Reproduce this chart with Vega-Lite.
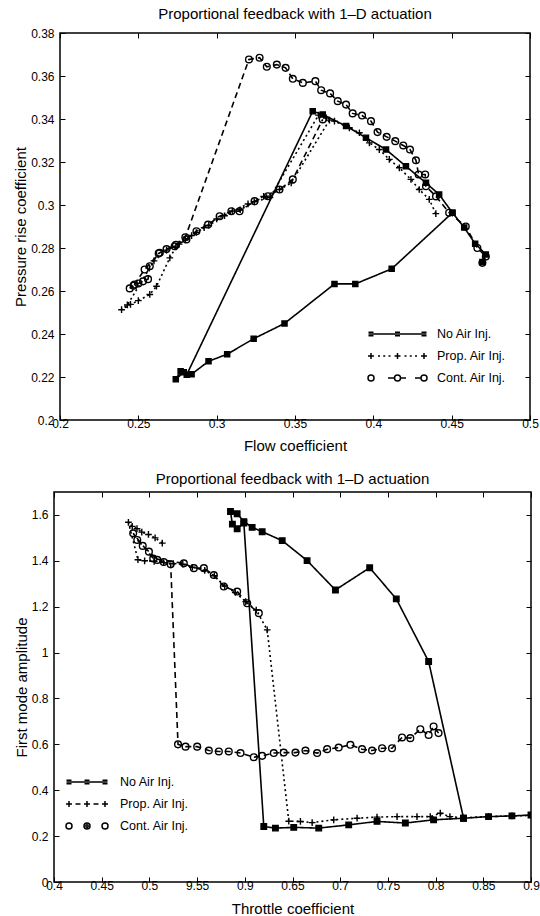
{
  "$schema": "https://vega.github.io/schema/vega-lite/v6.json",
  "padding": {"left": 10, "top": 6, "right": 0, "bottom": 0},
  "background": "white",
  "config": {
    "font": "Liberation Sans",
    "view": {"stroke": "black", "strokeWidth": 1.5},
    "axis": {"grid": false, "domain": false, "tickColor": "black", "tickSize": -5, "tickWidth": 1, "labelColor": "black", "labelFontSize": 12, "titleFontSize": 15, "titleFontWeight": "normal", "titleColor": "black", "labelFlush": false, "labelOverlap": false, "format": "~g"},
    "title": {"fontSize": 15, "fontWeight": "normal", "color": "black", "offset": 5, "frame": "group"},
    "legend": {"labelFontSize": 12.5, "labelColor": "black", "title": null}
  },
  "datasets": {
    "top": [
      {"s":"No Air Inj.","i":1,"x":0.4696,"y":0.2735},{"s":"No Air Inj.","i":2,"x":0.4718,"y":0.2770},{"s":"No Air Inj.","i":3,"x":0.4650,"y":0.2820},{"s":"No Air Inj.","i":4,"x":0.4580,"y":0.2895},{"s":"No Air Inj.","i":5,"x":0.4505,"y":0.2964},{"s":"No Air Inj.","i":6,"x":0.4420,"y":0.3049},{"s":"No Air Inj.","i":7,"x":0.4336,"y":0.3103},{"s":"No Air Inj.","i":8,"x":0.4208,"y":0.3180},{"s":"No Air Inj.","i":9,"x":0.4081,"y":0.3258},{"s":"No Air Inj.","i":10,"x":0.3953,"y":0.3313},{"s":"No Air Inj.","i":11,"x":0.3826,"y":0.3367},{"s":"No Air Inj.","i":12,"x":0.3677,"y":0.3421},{"s":"No Air Inj.","i":13,"x":0.3613,"y":0.3436},{"s":"No Air Inj.","i":14,"x":0.2809,"y":0.2211},{"s":"No Air Inj.","i":15,"x":0.2770,"y":0.2227},{"s":"No Air Inj.","i":16,"x":0.2739,"y":0.2190},{"s":"No Air Inj.","i":17,"x":0.2790,"y":0.2222},{"s":"No Air Inj.","i":18,"x":0.2840,"y":0.2213},{"s":"No Air Inj.","i":19,"x":0.2948,"y":0.2273},{"s":"No Air Inj.","i":20,"x":0.3067,"y":0.2306},{"s":"No Air Inj.","i":21,"x":0.3236,"y":0.2378},{"s":"No Air Inj.","i":22,"x":0.3433,"y":0.2449},{"s":"No Air Inj.","i":23,"x":0.3752,"y":0.2633},{"s":"No Air Inj.","i":24,"x":0.3885,"y":0.2633},{"s":"No Air Inj.","i":25,"x":0.4117,"y":0.2703},{"s":"No Air Inj.","i":26,"x":0.4505,"y":0.2964},
      {"s":"Prop. Air Inj.","i":1,"x":0.4399,"y":0.2960},{"s":"Prop. Air Inj.","i":2,"x":0.4357,"y":0.3026},{"s":"Prop. Air Inj.","i":3,"x":0.4293,"y":0.3072},{"s":"Prop. Air Inj.","i":4,"x":0.4240,"y":0.3119},{"s":"Prop. Air Inj.","i":5,"x":0.4166,"y":0.3173},{"s":"Prop. Air Inj.","i":6,"x":0.4102,"y":0.3212},{"s":"Prop. Air Inj.","i":7,"x":0.4038,"y":0.3258},{"s":"Prop. Air Inj.","i":8,"x":0.3975,"y":0.3289},{"s":"Prop. Air Inj.","i":9,"x":0.3911,"y":0.3336},{"s":"Prop. Air Inj.","i":10,"x":0.3847,"y":0.3359},{"s":"Prop. Air Inj.","i":11,"x":0.3752,"y":0.3390},{"s":"Prop. Air Inj.","i":12,"x":0.3700,"y":0.3405},{"s":"Prop. Air Inj.","i":13,"x":0.3650,"y":0.3418},{"s":"Prop. Air Inj.","i":14,"x":0.3340,"y":0.3035},{"s":"Prop. Air Inj.","i":15,"x":0.3240,"y":0.3015},{"s":"Prop. Air Inj.","i":16,"x":0.3150,"y":0.2978},{"s":"Prop. Air Inj.","i":17,"x":0.3050,"y":0.2950},{"s":"Prop. Air Inj.","i":18,"x":0.2950,"y":0.2905},{"s":"Prop. Air Inj.","i":19,"x":0.2870,"y":0.2872},{"s":"Prop. Air Inj.","i":20,"x":0.2800,"y":0.2838},{"s":"Prop. Air Inj.","i":21,"x":0.2740,"y":0.2805},{"s":"Prop. Air Inj.","i":22,"x":0.2701,"y":0.2754},{"s":"Prop. Air Inj.","i":23,"x":0.2616,"y":0.2622},{"s":"Prop. Air Inj.","i":24,"x":0.2573,"y":0.2584},{"s":"Prop. Air Inj.","i":25,"x":0.2500,"y":0.2555},{"s":"Prop. Air Inj.","i":26,"x":0.2450,"y":0.2538},{"s":"Prop. Air Inj.","i":27,"x":0.2393,"y":0.2513},{"s":"Prop. Air Inj.","i":28,"x":0.2430,"y":0.2535},{"s":"Prop. Air Inj.","i":29,"x":0.2600,"y":0.2740},{"s":"Prop. Air Inj.","i":30,"x":0.2680,"y":0.2790},{"s":"Prop. Air Inj.","i":31,"x":0.2760,"y":0.2818},{"s":"Prop. Air Inj.","i":32,"x":0.2840,"y":0.2858},{"s":"Prop. Air Inj.","i":33,"x":0.2920,"y":0.2895},{"s":"Prop. Air Inj.","i":34,"x":0.3000,"y":0.2935},{"s":"Prop. Air Inj.","i":35,"x":0.3100,"y":0.2972},{"s":"Prop. Air Inj.","i":36,"x":0.3200,"y":0.3005},{"s":"Prop. Air Inj.","i":37,"x":0.3300,"y":0.3040},{"s":"Prop. Air Inj.","i":38,"x":0.3401,"y":0.3072},{"s":"Prop. Air Inj.","i":39,"x":0.3476,"y":0.3103},{"s":"Prop. Air Inj.","i":40,"x":0.3720,"y":0.3395},
      {"s":"Cont. Air Inj.","i":1,"x":0.4696,"y":0.2731},{"s":"Cont. Air Inj.","i":2,"x":0.4718,"y":0.2760},{"s":"Cont. Air Inj.","i":3,"x":0.4664,"y":0.2800},{"s":"Cont. Air Inj.","i":4,"x":0.4590,"y":0.2900},{"s":"Cont. Air Inj.","i":5,"x":0.4484,"y":0.2964},{"s":"Cont. Air Inj.","i":6,"x":0.4400,"y":0.3040},{"s":"Cont. Air Inj.","i":7,"x":0.4336,"y":0.3087},{"s":"Cont. Air Inj.","i":8,"x":0.4331,"y":0.3142},{"s":"Cont. Air Inj.","i":9,"x":0.4289,"y":0.3142},{"s":"Cont. Air Inj.","i":10,"x":0.4272,"y":0.3208},{"s":"Cont. Air Inj.","i":11,"x":0.4234,"y":0.3258},{"s":"Cont. Air Inj.","i":12,"x":0.4191,"y":0.3277},{"s":"Cont. Air Inj.","i":13,"x":0.4140,"y":0.3297},{"s":"Cont. Air Inj.","i":14,"x":0.4085,"y":0.3317},{"s":"Cont. Air Inj.","i":15,"x":0.4027,"y":0.3339},{"s":"Cont. Air Inj.","i":16,"x":0.3985,"y":0.3390},{"s":"Cont. Air Inj.","i":17,"x":0.3928,"y":0.3416},{"s":"Cont. Air Inj.","i":18,"x":0.3868,"y":0.3426},{"s":"Cont. Air Inj.","i":19,"x":0.3826,"y":0.3467},{"s":"Cont. Air Inj.","i":20,"x":0.3773,"y":0.3483},{"s":"Cont. Air Inj.","i":21,"x":0.3724,"y":0.3519},{"s":"Cont. Air Inj.","i":22,"x":0.3667,"y":0.3534},{"s":"Cont. Air Inj.","i":23,"x":0.3630,"y":0.3576},{"s":"Cont. Air Inj.","i":24,"x":0.3550,"y":0.3568},{"s":"Cont. Air Inj.","i":25,"x":0.3486,"y":0.3587},{"s":"Cont. Air Inj.","i":26,"x":0.3440,"y":0.3638},{"s":"Cont. Air Inj.","i":27,"x":0.3384,"y":0.3653},{"s":"Cont. Air Inj.","i":28,"x":0.3320,"y":0.3643},{"s":"Cont. Air Inj.","i":29,"x":0.3274,"y":0.3685},{"s":"Cont. Air Inj.","i":30,"x":0.3206,"y":0.3677},{"s":"Cont. Air Inj.","i":31,"x":0.2800,"y":0.2850},{"s":"Cont. Air Inj.","i":32,"x":0.2740,"y":0.2815},{"s":"Cont. Air Inj.","i":33,"x":0.2680,"y":0.2795},{"s":"Cont. Air Inj.","i":34,"x":0.2630,"y":0.2775},{"s":"Cont. Air Inj.","i":35,"x":0.2573,"y":0.2715},{"s":"Cont. Air Inj.","i":36,"x":0.2562,"y":0.2655},{"s":"Cont. Air Inj.","i":37,"x":0.2530,"y":0.2645},{"s":"Cont. Air Inj.","i":38,"x":0.2500,"y":0.2635},{"s":"Cont. Air Inj.","i":39,"x":0.2470,"y":0.2625},{"s":"Cont. Air Inj.","i":40,"x":0.2445,"y":0.2612},{"s":"Cont. Air Inj.","i":41,"x":0.2475,"y":0.2630},{"s":"Cont. Air Inj.","i":42,"x":0.2540,"y":0.2700},{"s":"Cont. Air Inj.","i":43,"x":0.2637,"y":0.2778},{"s":"Cont. Air Inj.","i":44,"x":0.2732,"y":0.2808},{"s":"Cont. Air Inj.","i":45,"x":0.2807,"y":0.2840},{"s":"Cont. Air Inj.","i":46,"x":0.2871,"y":0.2878},{"s":"Cont. Air Inj.","i":47,"x":0.2945,"y":0.2909},{"s":"Cont. Air Inj.","i":48,"x":0.3019,"y":0.2948},{"s":"Cont. Air Inj.","i":49,"x":0.3094,"y":0.2971},{"s":"Cont. Air Inj.","i":50,"x":0.3146,"y":0.2971},{"s":"Cont. Air Inj.","i":51,"x":0.3242,"y":0.3018},{"s":"Cont. Air Inj.","i":52,"x":0.3327,"y":0.3041},{"s":"Cont. Air Inj.","i":53,"x":0.3401,"y":0.3072},{"s":"Cont. Air Inj.","i":54,"x":0.3486,"y":0.3119},{"s":"Cont. Air Inj.","i":55,"x":0.3677,"y":0.3398}
    ],
    "bottom": [
      {"s":"No Air Inj.","i":1,"x":0.9000,"y":0.292},{"s":"No Air Inj.","i":2,"x":0.8800,"y":0.288},{"s":"No Air Inj.","i":3,"x":0.8555,"y":0.285},{"s":"No Air Inj.","i":4,"x":0.8293,"y":0.278},{"s":"No Air Inj.","i":5,"x":0.7927,"y":0.961},{"s":"No Air Inj.","i":6,"x":0.7588,"y":1.234},{"s":"No Air Inj.","i":7,"x":0.7309,"y":1.370},{"s":"No Air Inj.","i":8,"x":0.6950,"y":1.273},{"s":"No Air Inj.","i":9,"x":0.6653,"y":1.401},{"s":"No Air Inj.","i":10,"x":0.6392,"y":1.488},{"s":"No Air Inj.","i":11,"x":0.6182,"y":1.527},{"s":"No Air Inj.","i":12,"x":0.6077,"y":1.546},{"s":"No Air Inj.","i":13,"x":0.5990,"y":1.571},{"s":"No Air Inj.","i":14,"x":0.5920,"y":1.605},{"s":"No Air Inj.","i":15,"x":0.5850,"y":1.615},{"s":"No Air Inj.","i":16,"x":0.5870,"y":1.560},{"s":"No Air Inj.","i":17,"x":0.5920,"y":1.540},{"s":"No Air Inj.","i":18,"x":0.5990,"y":1.565},{"s":"No Air Inj.","i":19,"x":0.6199,"y":0.242},{"s":"No Air Inj.","i":20,"x":0.6321,"y":0.235},{"s":"No Air Inj.","i":21,"x":0.6513,"y":0.238},{"s":"No Air Inj.","i":22,"x":0.6775,"y":0.235},{"s":"No Air Inj.","i":23,"x":0.7089,"y":0.249},{"s":"No Air Inj.","i":24,"x":0.7386,"y":0.264},{"s":"No Air Inj.","i":25,"x":0.7683,"y":0.257},{"s":"No Air Inj.","i":26,"x":0.7979,"y":0.271},{"s":"No Air Inj.","i":27,"x":0.8293,"y":0.278},
      {"s":"Prop. Air Inj.","i":1,"x":0.5135,"y":1.477},{"s":"Prop. Air Inj.","i":2,"x":0.5060,"y":1.500},{"s":"Prop. Air Inj.","i":3,"x":0.4990,"y":1.515},{"s":"Prop. Air Inj.","i":4,"x":0.4920,"y":1.525},{"s":"Prop. Air Inj.","i":5,"x":0.4870,"y":1.540},{"s":"Prop. Air Inj.","i":6,"x":0.4820,"y":1.550},{"s":"Prop. Air Inj.","i":7,"x":0.4780,"y":1.568},{"s":"Prop. Air Inj.","i":8,"x":0.4880,"y":1.405},{"s":"Prop. Air Inj.","i":9,"x":0.4950,"y":1.400},{"s":"Prop. Air Inj.","i":10,"x":0.5050,"y":1.398},{"s":"Prop. Air Inj.","i":11,"x":0.5150,"y":1.392},{"s":"Prop. Air Inj.","i":12,"x":0.5250,"y":1.388},{"s":"Prop. Air Inj.","i":13,"x":0.5350,"y":1.385},{"s":"Prop. Air Inj.","i":14,"x":0.5450,"y":1.372},{"s":"Prop. Air Inj.","i":15,"x":0.5580,"y":1.358},{"s":"Prop. Air Inj.","i":16,"x":0.5680,"y":1.335},{"s":"Prop. Air Inj.","i":17,"x":0.5790,"y":1.290},{"s":"Prop. Air Inj.","i":18,"x":0.5900,"y":1.262},{"s":"Prop. Air Inj.","i":19,"x":0.6010,"y":1.222},{"s":"Prop. Air Inj.","i":20,"x":0.6120,"y":1.185},{"s":"Prop. Air Inj.","i":21,"x":0.6235,"y":1.099},{"s":"Prop. Air Inj.","i":22,"x":0.6461,"y":0.265},{"s":"Prop. Air Inj.","i":23,"x":0.6583,"y":0.264},{"s":"Prop. Air Inj.","i":24,"x":0.6706,"y":0.259},{"s":"Prop. Air Inj.","i":25,"x":0.6932,"y":0.271},{"s":"Prop. Air Inj.","i":26,"x":0.7177,"y":0.278},{"s":"Prop. Air Inj.","i":27,"x":0.7386,"y":0.283},{"s":"Prop. Air Inj.","i":28,"x":0.7596,"y":0.285},{"s":"Prop. Air Inj.","i":29,"x":0.7805,"y":0.285},{"s":"Prop. Air Inj.","i":30,"x":0.7944,"y":0.285},{"s":"Prop. Air Inj.","i":31,"x":0.8049,"y":0.300},{"s":"Prop. Air Inj.","i":32,"x":0.8150,"y":0.285},{"s":"Prop. Air Inj.","i":33,"x":0.8293,"y":0.280},{"s":"Prop. Air Inj.","i":34,"x":0.8555,"y":0.285},{"s":"Prop. Air Inj.","i":35,"x":0.8800,"y":0.288},{"s":"Prop. Air Inj.","i":36,"x":0.9000,"y":0.290},
      {"s":"Cont. Air Inj.","i":1,"x":0.8031,"y":0.649},{"s":"Cont. Air Inj.","i":2,"x":0.7979,"y":0.678},{"s":"Cont. Air Inj.","i":3,"x":0.7927,"y":0.641},{"s":"Cont. Air Inj.","i":4,"x":0.7840,"y":0.666},{"s":"Cont. Air Inj.","i":5,"x":0.7735,"y":0.627},{"s":"Cont. Air Inj.","i":6,"x":0.7648,"y":0.630},{"s":"Cont. Air Inj.","i":7,"x":0.7543,"y":0.583},{"s":"Cont. Air Inj.","i":8,"x":0.7439,"y":0.583},{"s":"Cont. Air Inj.","i":9,"x":0.7334,"y":0.573},{"s":"Cont. Air Inj.","i":10,"x":0.7229,"y":0.579},{"s":"Cont. Air Inj.","i":11,"x":0.7107,"y":0.598},{"s":"Cont. Air Inj.","i":12,"x":0.6984,"y":0.586},{"s":"Cont. Air Inj.","i":13,"x":0.6863,"y":0.579},{"s":"Cont. Air Inj.","i":14,"x":0.6758,"y":0.562},{"s":"Cont. Air Inj.","i":15,"x":0.6636,"y":0.573},{"s":"Cont. Air Inj.","i":16,"x":0.6531,"y":0.564},{"s":"Cont. Air Inj.","i":17,"x":0.6408,"y":0.564},{"s":"Cont. Air Inj.","i":18,"x":0.6304,"y":0.562},{"s":"Cont. Air Inj.","i":19,"x":0.6182,"y":0.550},{"s":"Cont. Air Inj.","i":20,"x":0.6094,"y":0.544},{"s":"Cont. Air Inj.","i":21,"x":0.5955,"y":0.562},{"s":"Cont. Air Inj.","i":22,"x":0.5832,"y":0.569},{"s":"Cont. Air Inj.","i":23,"x":0.5728,"y":0.569},{"s":"Cont. Air Inj.","i":24,"x":0.5623,"y":0.573},{"s":"Cont. Air Inj.","i":25,"x":0.5501,"y":0.590},{"s":"Cont. Air Inj.","i":26,"x":0.5379,"y":0.590},{"s":"Cont. Air Inj.","i":27,"x":0.5300,"y":0.600},{"s":"Cont. Air Inj.","i":28,"x":0.5223,"y":1.385},{"s":"Cont. Air Inj.","i":29,"x":0.5150,"y":1.395},{"s":"Cont. Air Inj.","i":30,"x":0.5083,"y":1.404},{"s":"Cont. Air Inj.","i":31,"x":0.4995,"y":1.440},{"s":"Cont. Air Inj.","i":32,"x":0.4930,"y":1.465},{"s":"Cont. Air Inj.","i":33,"x":0.4873,"y":1.491},{"s":"Cont. Air Inj.","i":34,"x":0.4830,"y":1.520},{"s":"Cont. Air Inj.","i":35,"x":0.5040,"y":1.410},{"s":"Cont. Air Inj.","i":36,"x":0.5361,"y":1.389},{"s":"Cont. Air Inj.","i":37,"x":0.5466,"y":1.368},{"s":"Cont. Air Inj.","i":38,"x":0.5571,"y":1.368},{"s":"Cont. Air Inj.","i":39,"x":0.5675,"y":1.338},{"s":"Cont. Air Inj.","i":40,"x":0.5780,"y":1.288},{"s":"Cont. Air Inj.","i":41,"x":0.5920,"y":1.266},{"s":"Cont. Air Inj.","i":42,"x":0.6025,"y":1.215},{"s":"Cont. Air Inj.","i":43,"x":0.6147,"y":1.172}
    ]
  },
  "spacing": 16,
  "resolve": {"scale": {"shape": "independent", "strokeDash": "independent", "fill": "independent", "size": "independent"}},
  "vconcat": [
    {
      "spacing": 0,
      "resolve": {"scale": {"shape": "independent", "strokeDash": "independent", "fill": "independent", "size": "independent"}},
      "hconcat": [
        {"width": 2, "height": 10, "data": {"values": []}, "mark": {"type": "point", "opacity": 0}, "view": {"stroke": null}},
        {
          "title": {"text": "Proportional feedback with 1–D actuation"},
          "width": 470,
          "height": 387,
          "data": {"name": "top"},
          "layer": [
            {
              "mark": {"type": "line", "color": "black", "strokeWidth": 1.6, "clip": true},
              "encoding": {
                "x": {"field": "x", "type": "quantitative", "scale": {"domain": [0.2, 0.5], "nice": false, "zero": false}, "axis": {"title": "Flow coefficient", "values": [0.2, 0.25, 0.3, 0.35, 0.4, 0.45, 0.5], "labelPadding": 3, "titlePadding": 9}},
                "y": {"field": "y", "type": "quantitative", "scale": {"domain": [0.2, 0.38], "nice": false, "zero": false}, "axis": {"title": "Pressure rise coefficient", "values": [0.2, 0.22, 0.24, 0.26, 0.28, 0.3, 0.32, 0.34, 0.36, 0.38], "labelPadding": 11, "titlePadding": 2}},
                "detail": {"field": "s"},
                "order": {"field": "i", "type": "quantitative"},
                "strokeDash": {"field": "s", "type": "nominal", "scale": {"domain": ["No Air Inj.", "Prop. Air Inj.", "Cont. Air Inj."], "range": [[1, 0], [2, 3], [6, 4]]}, "legend": null}
              }
            },
            {
              "mark": {"type": "point", "filled": true, "stroke": "black", "strokeWidth": 1.4, "opacity": 1, "clip": true},
              "encoding": {
                "x": {"field": "x", "type": "quantitative", "axis": null},
                "y": {"field": "y", "type": "quantitative", "axis": null},
                "shape": {"field": "s", "type": "nominal", "scale": {"domain": ["No Air Inj.", "Prop. Air Inj.", "Cont. Air Inj."], "range": ["square", "M-1,0H1M0,-1V1", "circle"]}, "legend": null},
                "fill": {"field": "s", "type": "nominal", "scale": {"domain": ["No Air Inj.", "Prop. Air Inj.", "Cont. Air Inj."], "range": ["black", "transparent", "transparent"]}, "legend": null},
                "size": {"field": "s", "type": "nominal", "scale": {"type": "ordinal", "domain": ["No Air Inj.", "Prop. Air Inj.", "Cont. Air Inj."], "range": [26, 45, 45]}, "legend": null}
              }
            },
            {
              "mark": {"type": "point", "filled": false, "color": "black", "opacity": 0, "strokeWidth": 1.5},
              "encoding": {
                "x": {"field": "x", "type": "quantitative", "axis": {"orient": "top", "labels": false, "title": null, "values": [0.2, 0.25, 0.3, 0.35, 0.4, 0.45, 0.5]}},
                "y": {"field": "y", "type": "quantitative", "axis": {"orient": "right", "labels": false, "title": null, "values": [0.2, 0.22, 0.24, 0.26, 0.28, 0.3, 0.32, 0.34, 0.36, 0.38]}},
                "shape": {"field": "s", "type": "nominal", "scale": {"domain": ["No Air Inj.", "Prop. Air Inj.", "Cont. Air Inj."], "range": [
                  "M-1,0H4.3M-1.25,-0.17H-0.75M-1.25,0.17H-0.75M-1.25,0H-0.75M1.4,-0.17H1.9M1.4,0.17H1.9M4.05,-0.17H4.55M4.05,0.17H4.55M4.05,0H4.55",
                  "M-1.3,0H-0.7M-1,-0.3V0.3M1.35,0H1.95M1.65,-0.3V0.3M4,0H4.6M4.3,-0.3V0.3M-0.3,0H-0.1M0.225,0H0.425M0.75,0H0.95M2.35,0H2.55M2.875,0H3.075M3.4,0H3.6",
                  "M-0.7,0A0.3 0.3 0 1 1 -1.3,0A0.3 0.3 0 1 1 -0.7,0M1.95,0A0.3 0.3 0 1 1 1.35,0A0.3 0.3 0 1 1 1.95,0M4.6,0A0.3 0.3 0 1 1 4,0A0.3 0.3 0 1 1 4.6,0M0.7,0H1.3M2,0H2.5M3.4,0H3.95"
                ]}, "legend": {"orient": "none", "legendX": 310, "legendY": 290, "symbolSize": 400, "symbolStrokeWidth": 1.5, "symbolStrokeColor": "black", "labelOffset": 45, "rowPadding": 4}}
              }
            }
          ],
          "resolve": {"scale": {"shape": "independent"}, "axis": {"x": "independent", "y": "independent"}}
        }
      ]
    },
    {
      "spacing": 0,
      "resolve": {"scale": {"shape": "independent", "strokeDash": "independent", "fill": "independent", "size": "independent"}},
      "hconcat": [
        {"width": 3, "height": 10, "data": {"values": []}, "mark": {"type": "point", "opacity": 0}, "view": {"stroke": null}},
        {
          "title": {"text": "Proportional feedback with 1–D actuation"},
          "width": 477,
          "height": 390,
          "data": {"name": "bottom"},
          "layer": [
            {
              "mark": {"type": "line", "color": "black", "strokeWidth": 1.6, "clip": true},
              "encoding": {
                "x": {"field": "x", "type": "quantitative", "scale": {"domain": [0.4, 0.9], "nice": false, "zero": false}, "axis": {"title": "Throttle coefficient", "values": [0.4, 0.45, 0.5, 0.55, 0.6, 0.65, 0.7, 0.75, 0.8, 0.85, 0.9], "labelExpr": "datum.value == 0.55 ? '9.55' : (datum.value == 0.6 ? '0.9' : datum.label)", "labelPadding": 3, "titlePadding": 10}},
                "y": {"field": "y", "type": "quantitative", "scale": {"domain": [0, 1.7], "nice": false, "zero": false}, "axis": {"title": "First mode amplitude", "values": [0, 0.2, 0.4, 0.6, 0.8, 1, 1.2, 1.4, 1.6], "labelPadding": 11, "titlePadding": 2}},
                "detail": {"field": "s"},
                "order": {"field": "i", "type": "quantitative"},
                "strokeDash": {"field": "s", "type": "nominal", "scale": {"domain": ["No Air Inj.", "Prop. Air Inj.", "Cont. Air Inj."], "range": [[1, 0], [2, 3], [6, 4]]}, "legend": null}
              }
            },
            {
              "mark": {"type": "point", "filled": true, "stroke": "black", "strokeWidth": 1.4, "opacity": 1, "clip": true},
              "encoding": {
                "x": {"field": "x", "type": "quantitative", "axis": null},
                "y": {"field": "y", "type": "quantitative", "axis": null},
                "shape": {"field": "s", "type": "nominal", "scale": {"domain": ["No Air Inj.", "Prop. Air Inj.", "Cont. Air Inj."], "range": ["square", "M-1,0H1M0,-1V1", "circle"]}, "legend": null},
                "fill": {"field": "s", "type": "nominal", "scale": {"domain": ["No Air Inj.", "Prop. Air Inj.", "Cont. Air Inj."], "range": ["black", "transparent", "transparent"]}, "legend": null},
                "size": {"field": "s", "type": "nominal", "scale": {"type": "ordinal", "domain": ["No Air Inj.", "Prop. Air Inj.", "Cont. Air Inj."], "range": [30, 45, 45]}, "legend": null}
              }
            },
            {
              "mark": {"type": "point", "filled": false, "color": "black", "opacity": 0, "strokeWidth": 1.5},
              "encoding": {
                "x": {"field": "x", "type": "quantitative", "axis": {"orient": "top", "labels": false, "title": null, "values": [0.4, 0.45, 0.5, 0.55, 0.6, 0.65, 0.7, 0.75, 0.8, 0.85, 0.9]}},
                "y": {"field": "y", "type": "quantitative", "axis": {"orient": "right", "labels": false, "title": null, "values": [0, 0.2, 0.4, 0.6, 0.8, 1, 1.2, 1.4, 1.6]}},
                "shape": {"field": "s", "type": "nominal", "scale": {"domain": ["No Air Inj.", "Prop. Air Inj.", "Cont. Air Inj."], "range": [
                  "M-1,0H2.6M-1.25,-0.17H-0.75M-1.25,0.17H-0.75M-1.25,0H-0.75M0.55,-0.17H1.05M0.55,0.17H1.05M2.35,-0.17H2.85M2.35,0.17H2.85M2.35,0H2.85",
                  "M-1.3,0H-0.7M-1,-0.3V0.3M0.5,0H1.1M0.8,-0.3V0.3M2.3,0H2.9M2.6,-0.3V0.3M-0.35,0H0.15M1.45,0H1.95",
                  "M-0.7,0A0.3 0.3 0 1 1 -1.3,0A0.3 0.3 0 1 1 -0.7,0M1.1,0A0.3 0.3 0 1 1 0.5,0A0.3 0.3 0 1 1 1.1,0M0.92,0A0.12 0.12 0 1 1 0.68,0A0.12 0.12 0 1 1 0.92,0M2.9,0A0.3 0.3 0 1 1 2.3,0A0.3 0.3 0 1 1 2.9,0"
                ]}, "legend": {"orient": "none", "legendX": 14, "legendY": 279, "symbolSize": 400, "symbolStrokeWidth": 1.5, "symbolStrokeColor": "black", "labelOffset": 30, "rowPadding": 4}}
              }
            }
          ],
          "resolve": {"scale": {"shape": "independent"}, "axis": {"x": "independent", "y": "independent"}}
        }
      ]
    }
  ]
}
